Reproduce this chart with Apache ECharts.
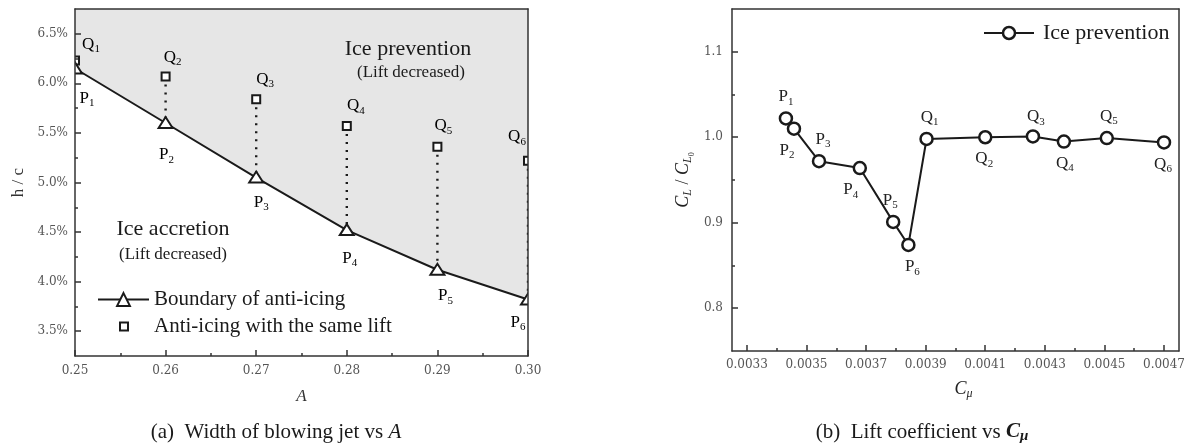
<!DOCTYPE html>
<html><head><meta charset="utf-8">
<script src="https://cdn.jsdelivr.net/npm/echarts@6/dist/echarts.min.js"></script>
<style>html,body{margin:0;padding:0;background:#fff}#c{width:1188px;height:448px}</style>
</head><body><div id="c"></div>
<script>
// ---------------- data ----------------
const A_values   = [0.25, 0.26, 0.27, 0.28, 0.29, 0.30];
const boundaryHc = [6.15, 5.60, 5.05, 4.52, 4.12, 3.82];   // P1..P6, h/c in %
const sameLiftHc = [6.23, 6.07, 5.84, 5.57, 5.36, 5.22];   // Q1..Q6, h/c in %
const pqIndex    = ['1', '2', '3', '4', '5', '6'];

const cmuValues = [0.003431, 0.003458, 0.003542, 0.003679, 0.003791, 0.003842,
                   0.003903, 0.004100, 0.004260, 0.004364, 0.004508, 0.004700];
const clRatio   = [1.022, 1.010, 0.972, 0.964, 0.901, 0.874,
                   0.998, 1.000, 1.001, 0.995, 0.999, 0.994];
const cmuLetters = ['P','P','P','P','P','P','Q','Q','Q','Q','Q','Q'];
const cmuIndex   = ['1','2','3','4','5','6','1','2','3','4','5','6'];

const leftXTicks  = [0.25, 0.26, 0.27, 0.28, 0.29, 0.30];
const leftXMinor  = [0.255, 0.265, 0.275, 0.285, 0.295];
const leftYTicks  = [3.5, 4.0, 4.5, 5.0, 5.5, 6.0, 6.5];
const leftYMinor  = [3.75, 4.25, 4.75, 5.25, 5.75, 6.25];
const rightXTicks = [0.0033, 0.0035, 0.0037, 0.0039, 0.0041, 0.0043, 0.0045, 0.0047];
const rightXMinor = [0.0034, 0.0036, 0.0038, 0.0040, 0.0042, 0.0044, 0.0046];
const rightYTicks = [0.8, 0.9, 1.0, 1.1];
const rightYMinor = [0.85, 0.95, 1.05];

// ---------------- layout / style (not data) ----------------
const SERIF = 'Liberation Serif';
const INK = '#1a1a1a';
const leftQOffset = [[16,-16],[7,-19],[9,-20],[9,-20],[6,-21],[-11,-24]];
const leftPOffset = [[12,30],[1,32],[5,25],[3,28],[8,26],[-10,23]];
const rightLabelLayout = [
  {position:'top', offset:[0,0]}, {position:'bottom', offset:[-7,0]},
  {position:'top', offset:[4,0]}, {position:'bottom', offset:[-9,0]},
  {position:'top', offset:[-3,0]}, {position:'bottom', offset:[4,0]},
  {position:'top', offset:[3,0]}, {position:'bottom', offset:[-1,0]},
  {position:'top', offset:[3,2]}, {position:'bottom', offset:[1,0]},
  {position:'top', offset:[2,0]}, {position:'bottom', offset:[-1,0]}
];
const RICH = {
  b:  {fontFamily: SERIF, fontSize: 17, color: '#222', verticalAlign: 'middle'},
  i:  {fontFamily: SERIF, fontSize: 18, fontStyle: 'italic', color: '#222', verticalAlign: 'middle'},
  n:  {fontFamily: SERIF, fontSize: 18, color: '#222', verticalAlign: 'middle'},
  s:  {fontFamily: SERIF, fontSize: 11, color: '#222', padding: [10,0,0,0], verticalAlign: 'middle'},
  si: {fontFamily: SERIF, fontSize: 12, fontStyle: 'italic', color: '#222', padding: [10,0,0,0], verticalAlign: 'middle'},
  ss: {fontFamily: SERIF, fontSize: 8, color: '#222', padding: [18,0,0,0], verticalAlign: 'middle'}
};
const TICKFONT = {fontFamily: 'DejaVu Serif', fontSize: 12, color: '#555'};
const LINE = {color: '#333', width: 1.5};

function majorAxis(gridIndex, min, max, ticks, fmt, margin, extra) {
  return Object.assign({
    type: 'value', gridIndex, min, max, z: 10,
    axisLine: {show: true, onZero: false, lineStyle: LINE},
    axisTick: {show: true, inside: true, length: 6, customValues: ticks, lineStyle: LINE},
    axisLabel: Object.assign({show: true, customValues: ticks, formatter: fmt, margin}, TICKFONT),
    splitLine: {show: false}
  }, extra);
}
function minorAxis(gridIndex, min, max, ticks, position) {
  return {type: 'value', gridIndex, min, max, position, z: 10,
    axisLine: {show: false, onZero: false},
    axisTick: {show: true, inside: true, length: 3, customValues: ticks, lineStyle: LINE},
    axisLabel: {show: false}, splitLine: {show: false}};
}
function frameAxis(gridIndex, min, max, position) {
  return {type: 'value', gridIndex, min, max, position, z: 10,
    axisLine: {show: true, onZero: false, lineStyle: LINE},
    axisTick: {show: false}, axisLabel: {show: false}, splitLine: {show: false}};
}

const LX = [0.25, 0.30], LY = [3.25, 6.75], RX = [0.00325, 0.00475], RY = [0.75, 1.15];

const chart = echarts.init(document.getElementById('c'), null, {renderer: 'canvas'});
chart.setOption({
  animation: false,
  backgroundColor: '#fff',
  grid: [
    {left: 75, top: 9, width: 453, height: 347},
    {left: 732, top: 9, width: 447, height: 342},
    {left: 75, top: 9, width: 453, height: 347},
    {left: 732, top: 9, width: 447, height: 342}
  ],
  xAxis: [
    majorAxis(0, LX[0], LX[1], leftXTicks, v => v.toFixed(2), 9, {position: 'bottom',
      name: 'A', nameLocation: 'middle', nameGap: 32,
      nameTextStyle: {fontFamily: SERIF, fontStyle: 'italic', fontSize: 17, color: '#333'}}),
    minorAxis(0, LX[0], LX[1], leftXMinor, 'bottom'),
    majorAxis(1, RX[0], RX[1], rightXTicks, v => v.toFixed(4), 8, {position: 'bottom',
      name: '{i|C}{si|μ}', nameLocation: 'middle', nameGap: 27,
      nameTextStyle: {rich: RICH, padding: [0,0,0,16]}}),
    minorAxis(1, RX[0], RX[1], rightXMinor, 'bottom'),
    frameAxis(2, LX[0], LX[1], 'top'),
    frameAxis(3, RX[0], RX[1], 'top')
  ],
  yAxis: [
    majorAxis(0, LY[0], LY[1], leftYTicks, v => v.toFixed(1) + '%', 7, {position: 'left',
      name: 'h / c', nameLocation: 'middle', nameGap: 48, nameRotate: 90,
      nameTextStyle: {fontFamily: SERIF, fontSize: 17, color: '#333'}}),
    minorAxis(0, LY[0], LY[1], leftYMinor, 'left'),
    majorAxis(1, RY[0], RY[1], rightYTicks, v => v.toFixed(1), 9, {position: 'left',
      name: '{i|C}{si|L}{n| / }{i|C}{si|L}{ss|0}', nameLocation: 'middle', nameGap: 36, nameRotate: 90,
      nameTextStyle: {rich: RICH}}),
    minorAxis(1, RY[0], RY[1], rightYMinor, 'left'),
    frameAxis(2, LY[0], LY[1], 'right'),
    frameAxis(3, RY[0], RY[1], 'right')
  ],
  legend: [
    {data: ['Boundary of anti-icing'], left: 97, top: 289, padding: 0, itemWidth: 51, itemHeight: 16, z: 20,
      selectedMode: false, textStyle: {fontFamily: SERIF, fontSize: 21, color: INK},
      itemStyle: {color: '#fff', borderColor: INK, borderWidth: 2}, lineStyle: {color: INK, width: 2}},
    {data: ['Anti-icing with the same lift'], icon: 'rect', left: 119, top: 316, padding: 0, itemWidth: 8, itemHeight: 8, z: 20,
      selectedMode: false, textStyle: {fontFamily: SERIF, fontSize: 21, color: INK, padding: [0,0,0,21]},
      itemStyle: {color: '#fff', borderColor: INK, borderWidth: 2}},
    {data: ['Ice prevention'], left: 983, top: 22, padding: 0, itemWidth: 50, itemHeight: 15, z: 20,
      selectedMode: false, textStyle: {fontFamily: SERIF, fontSize: 22, color: INK, padding: [0,0,0,4]},
      itemStyle: {color: '#fff', borderColor: INK, borderWidth: 2.5}, lineStyle: {color: INK, width: 2}}
  ],
  graphic: [
    {type: 'text', z: 50, x: 408, y: 49, style: {text: 'Ice prevention', font: '22px "Liberation Serif"', fill: INK, align: 'center', verticalAlign: 'middle'}},
    {type: 'text', z: 50, x: 411, y: 73, style: {text: '(Lift decreased)', font: '17px "Liberation Serif"', fill: INK, align: 'center', verticalAlign: 'middle'}},
    {type: 'text', z: 50, x: 173, y: 229, style: {text: 'Ice accretion', font: '22px "Liberation Serif"', fill: INK, align: 'center', verticalAlign: 'middle'}},
    {type: 'text', z: 50, x: 173, y: 255, style: {text: '(Lift decreased)', font: '17px "Liberation Serif"', fill: INK, align: 'center', verticalAlign: 'middle'}},
    {type: 'text', z: 50, x: 276, y: 432, style: {text: '(a)  Width of blowing jet vs {i|A}', font: '21px "Liberation Serif"', fill: INK, align: 'center', verticalAlign: 'middle',
      rich: {i: {fontFamily: SERIF, fontSize: 21, fontStyle: 'italic', fill: INK}}}},
    {type: 'text', z: 50, x: 922, y: 432, style: {text: '(b)  Lift coefficient vs {i|C}{s|μ}', font: '21px "Liberation Serif"', fill: INK, align: 'center', verticalAlign: 'middle',
      rich: {i: {fontFamily: SERIF, fontSize: 21, fontStyle: 'italic', fontWeight: 'bold', fill: INK},
             s: {fontFamily: SERIF, fontSize: 15, fontStyle: 'italic', fontWeight: 'bold', fill: INK, padding: [8,0,0,0]}}}}
  ],
  series: [
    {
      // grey region above the anti-icing boundary (ice prevention zone)
      type: 'custom', name: 'prevention-zone', xAxisIndex: 0, yAxisIndex: 0, z: 1, clip: true, silent: true,
      data: A_values.map((a, i) => [a, boundaryHc[i]]),
      encode: {x: 0, y: 1},
      renderItem: function (params, api) {
        if (params.dataIndex !== 0) return null;
        const pts = A_values.map((a, i) => api.coord([a, boundaryHc[i]]));
        const topRight = api.coord([A_values[A_values.length - 1], LY[1]]);
        const topLeft = api.coord([A_values[0], LY[1]]);
        return {type: 'polygon', shape: {points: pts.concat([topRight, topLeft])},
          style: {fill: '#e6e6e6', stroke: null}};
      }
    },
    {
      type: 'line', name: 'Boundary of anti-icing', xAxisIndex: 0, yAxisIndex: 0, z: 2,
      data: A_values.map((a, i) => [a, boundaryHc[i]]),
      symbol: 'triangle', showSymbol: false,
      lineStyle: {color: INK, width: 2},
      itemStyle: {color: '#fff', borderColor: INK, borderWidth: 2}
    },
    {
      type: 'custom', name: 'Anti-icing with the same lift', xAxisIndex: 0, yAxisIndex: 0, z: 3, clip: true,
      data: A_values.map((a, i) => [a, sameLiftHc[i], boundaryHc[i]]),
      encode: {x: 0, y: [1, 2]},
      renderItem: function (params, api) {
        const i = params.dataIndex;
        const cq = api.coord([api.value(0), api.value(1)]);
        const cp = api.coord([api.value(0), api.value(2)]);
        const qo = leftQOffset[i];
        return {type: 'group', children: [
          {type: 'line', shape: {x1: cq[0], y1: cq[1], x2: cp[0], y2: cp[1]},
            style: {stroke: INK, lineWidth: 2.4, lineDash: [2, 6]}},
          {type: 'rect', shape: {x: cq[0] - 4, y: cq[1] - 4, width: 8, height: 8},
            style: {fill: '#fff', stroke: INK, lineWidth: 2}},
          {type: 'text', x: cq[0] + qo[0], y: cq[1] + qo[1],
            style: {text: '{b|Q}{s|' + pqIndex[i] + '}', rich: RICH, align: 'center', verticalAlign: 'middle'}}
        ]};
      }
    },
    {
      type: 'custom', name: 'boundary-markers', xAxisIndex: 0, yAxisIndex: 0, z: 4, clip: true,
      data: A_values.map((a, i) => [a, boundaryHc[i]]),
      encode: {x: 0, y: 1},
      renderItem: function (params, api) {
        const i = params.dataIndex;
        const c = api.coord([api.value(0), api.value(1)]);
        const po = leftPOffset[i];
        return {type: 'group', children: [
          {type: 'polygon', shape: {points: [[c[0] - 7, c[1] + 5], [c[0] + 7, c[1] + 5], [c[0], c[1] - 6]]},
            style: {fill: '#fff', stroke: INK, lineWidth: 2}},
          {type: 'text', x: c[0] + po[0], y: c[1] + po[1],
            style: {text: '{b|P}{s|' + pqIndex[i] + '}', rich: RICH, align: 'center', verticalAlign: 'middle'}}
        ]};
      }
    },
    {
      type: 'line', name: 'Ice prevention', xAxisIndex: 2, yAxisIndex: 2, z: 3,
      data: cmuValues.map((x, i) => ({value: [x, clRatio[i]], label: rightLabelLayout[i]})),
      symbol: 'circle', symbolSize: 12, showSymbol: true,
      lineStyle: {color: INK, width: 2},
      itemStyle: {color: '#fff', borderColor: INK, borderWidth: 2.5},
      label: {show: true, distance: 4,
        formatter: p => '{b|' + cmuLetters[p.dataIndex] + '}{s|' + cmuIndex[p.dataIndex] + '}',
        rich: RICH}
    }
  ]
});
</script>
</body></html>
